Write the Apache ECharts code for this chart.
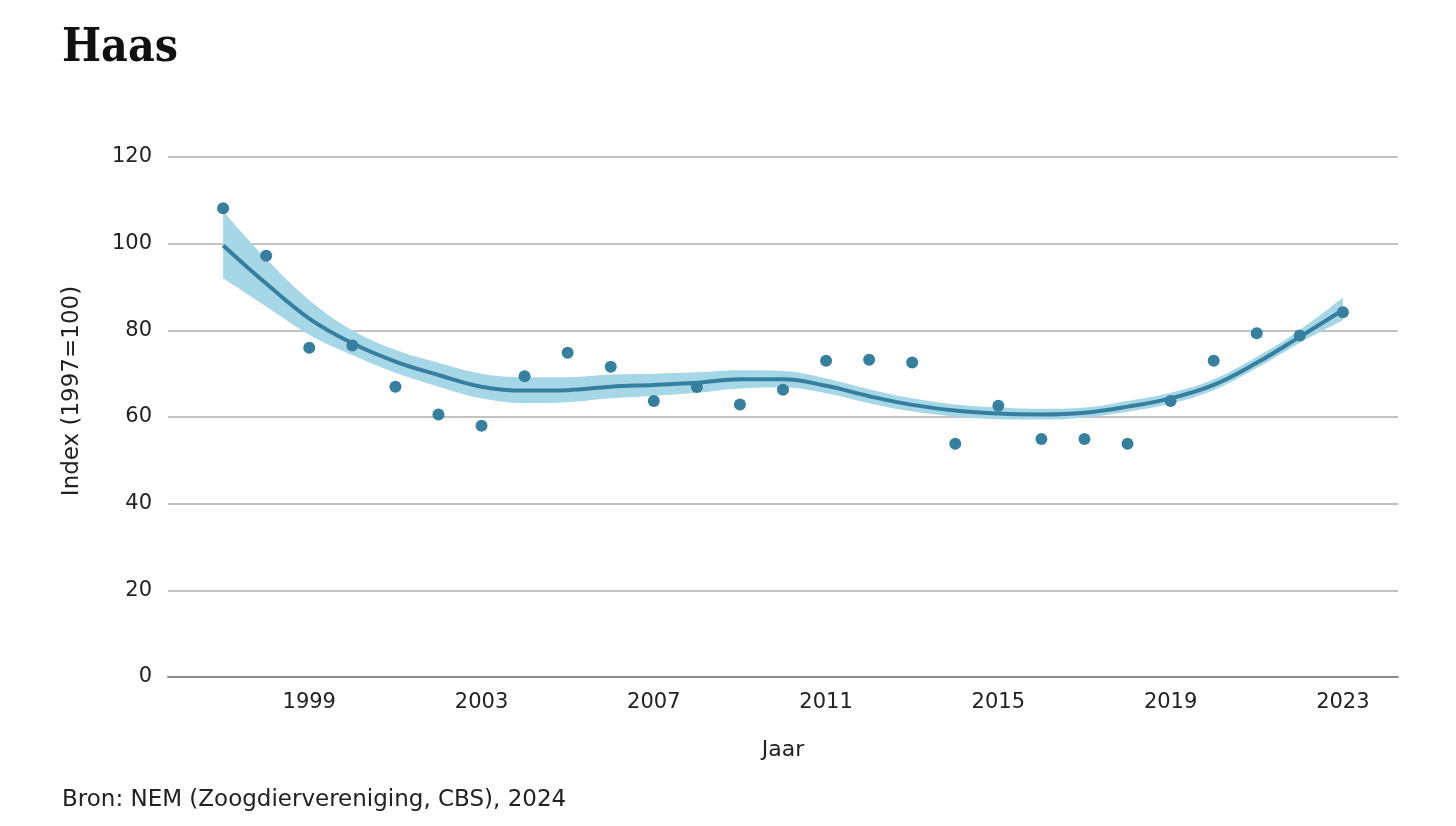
<!DOCTYPE html>
<html>
<head>
<meta charset="utf-8">
<title>Haas</title>
<script src="https://cdn.jsdelivr.net/npm/echarts@6/dist/echarts.min.js"></script>
<style>
  html, body { margin: 0; padding: 0; background: #fff; }
  #chart { width: 1456px; height: 826px; }
</style>
</head>
<body>
<div id="chart"></div>
<script>
// jaren en tellingen
const years = [1997, 1998, 1999, 2000, 2001, 2002, 2003, 2004, 2005, 2006, 2007, 2008, 2009, 2010,
  2011, 2012, 2013, 2014, 2015, 2016, 2017, 2018, 2019, 2020, 2021, 2022, 2023];
const indexValues = [108.2, 97.2, 76.0, 76.5, 67.0, 60.6, 58.0, 69.4, 74.8, 71.6, 63.7, 66.9, 62.9, 66.3,
  73.0, 73.2, 72.6, 53.8, 62.6, 54.9, 54.9, 53.8, 63.7, 73.0, 79.3, 78.8, 84.2];
// trendlijn met betrouwbaarheidsband
const trend = [99.6, 90.8, 82.7, 77.0, 72.8, 69.7, 67.0, 66.1, 66.2, 67.0, 67.4, 67.9, 68.7, 68.7,
  67.2, 64.8, 62.8, 61.5, 60.8, 60.6, 61.0, 62.4, 64.3, 67.4, 72.5, 78.5, 84.7];
const trendLower = [92.0, 85.5, 79.0, 74.3, 70.2, 67.0, 64.3, 63.2, 63.4, 64.3, 64.9, 65.6, 66.6, 66.8,
  65.5, 63.2, 61.3, 60.1, 59.5, 59.4, 59.9, 61.2, 63.1, 66.2, 71.3, 77.1, 82.3];
const trendUpper = [107.5, 96.5, 87.0, 80.0, 75.5, 72.5, 70.0, 69.2, 69.2, 69.8, 70.0, 70.3, 70.8, 70.6,
  68.9, 66.4, 64.3, 62.9, 62.2, 61.9, 62.2, 63.7, 65.6, 68.7, 73.9, 80.1, 87.6];
const xTickLabels = [1999, 2003, 2007, 2011, 2015, 2019, 2023];
const yTicks = { min: 0, max: 120, interval: 20 };

const font = '"DejaVu Sans", sans-serif';
const darkBlue = '#367f9f';
const lightBlue = '#a6d7e6';

// x-bereik: 1,28 jaar marge aan beide kanten
const PAD = 1.28;
const xMin = years[0] - PAD;
const xMax = years[years.length - 1] + PAD;

// band op een verborgen tijd-as, zodat echarts de y-waarden stapelt (niet de x)
const YEAR_MS = 365.25 * 864e5;
const t = y => Date.UTC(1970, 0, 1) + (y - 1970) * YEAR_MS;
const pairs = arr => years.map((y, i) => [y, arr[i]]);
const timePairs = arr => years.map((y, i) => [t(y), arr[i]]);
const bandWidth = years.map((y, i) => [t(y), +(trendUpper[i] - trendLower[i]).toFixed(2)]);

const chart = echarts.init(document.getElementById('chart'), null, { renderer: 'canvas' });

chart.setOption({
  animation: false,
  backgroundColor: '#fff',
  title: {
    text: 'Haas',
    left: 57,
    top: 21,
    textStyle: { fontFamily: '"DejaVu Serif Condensed", "DejaVu Serif", serif', fontWeight: 'bold', fontSize: 46, color: '#111' }
  },
  grid: { left: 168, right: 58, top: 157, bottom: 149 },
  xAxis: [
    {
      type: 'value',
      min: xMin,
      max: xMax,
      name: 'Jaar',
      nameLocation: 'middle',
      nameGap: 62,
      nameTextStyle: { fontFamily: font, fontSize: 22, color: '#222' },
      axisLine: { show: true, lineStyle: { color: '#8a8a8a', width: 2 } },
      axisTick: { show: false },
      splitLine: { show: false },
      axisLabel: {
        customValues: xTickLabels,
        fontFamily: font, fontSize: 21, color: '#222', margin: 15,
        formatter: v => String(v)
      }
    },
    {
      type: 'time',
      min: t(xMin),
      max: t(xMax),
      show: false
    }
  ],
  yAxis: {
    type: 'value',
    min: yTicks.min,
    max: yTicks.max,
    interval: yTicks.interval,
    axisLine: { show: false },
    axisTick: { show: false },
    splitLine: { lineStyle: { color: '#c2c2c2', width: 2 } },
    axisLabel: { fontFamily: font, fontSize: 21, color: '#222', margin: 16 }
  },
  graphic: [
    {
      type: 'text',
      left: 62,
      top: 789,
      style: { text: 'Bron: NEM (Zoogdiervereniging, CBS), 2024', fontFamily: font, fontSize: 23, fill: '#222' }
    },
    {
      type: 'text',
      x: 72,
      y: 391,
      rotation: Math.PI / 2,
      style: {
        text: 'Index (1997=100)', fontFamily: font, fontSize: 23, fill: '#222',
        align: 'center', verticalAlign: 'middle'
      }
    }
  ],
  series: [
    {
      name: 'ondergrens',
      type: 'line',
      xAxisIndex: 1,
      stack: 'band',
      data: timePairs(trendLower),
      smooth: 0.4,
      symbol: 'none',
      lineStyle: { opacity: 0 },
      silent: true
    },
    {
      name: 'band',
      type: 'line',
      xAxisIndex: 1,
      stack: 'band',
      data: bandWidth,
      smooth: 0.4,
      symbol: 'none',
      lineStyle: { opacity: 0 },
      areaStyle: { color: lightBlue, opacity: 1 },
      silent: true
    },
    {
      name: 'trend',
      type: 'line',
      data: pairs(trend),
      smooth: 0.4,
      symbol: 'none',
      lineStyle: { color: darkBlue, width: 4 }
    },
    {
      name: 'index',
      type: 'scatter',
      data: pairs(indexValues),
      symbolSize: 12,
      itemStyle: { color: darkBlue, opacity: 1 },
      z: 5
    }
  ]
});
</script>
</body>
</html>
